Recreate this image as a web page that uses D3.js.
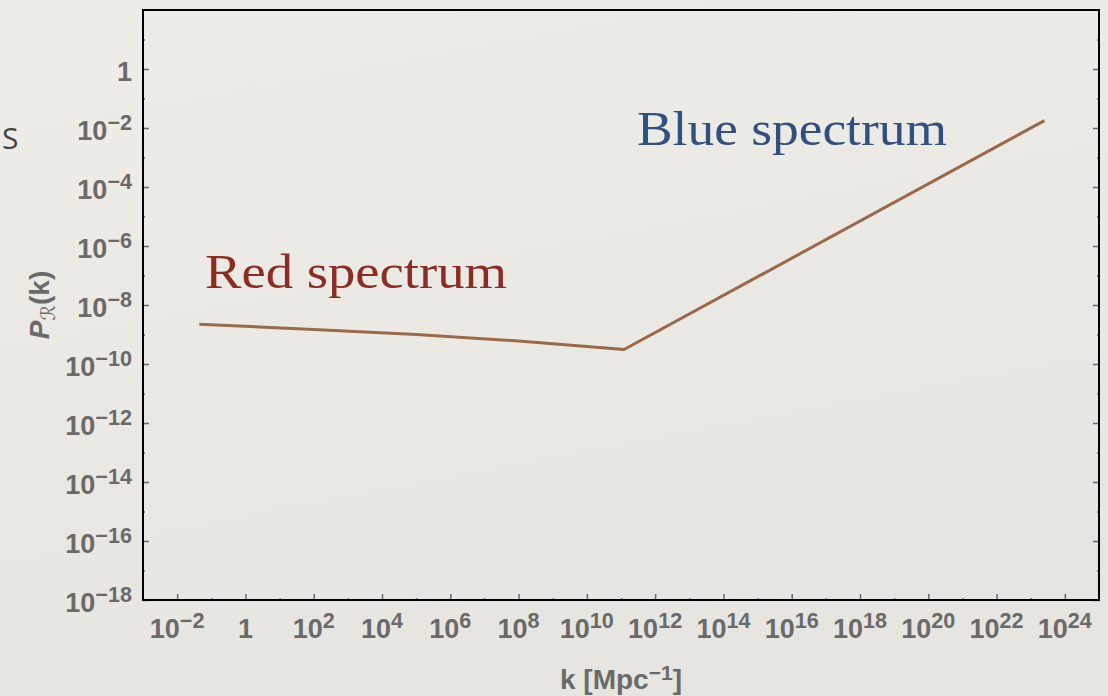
<!DOCTYPE html>
<html>
<head>
<meta charset="utf-8">
<script src="https://cdn.jsdelivr.net/npm/d3@7"></script>
<style>
  html, body { margin: 0; padding: 0; background: #edebe6; }
  svg { display: block; }
</style>
</head>
<body>
<div id="chart"></div>
<script>
// power spectrum values (log10 k, log10 P)
const redLogK  = [-1.35, 2, 5, 8, 11.09];
const redLogP  = [-8.65, -8.83, -9.0, -9.22, -9.51];
const blueLogK = [11.09, 23.4];
const blueLogP = [-9.51, -1.75];

const xTickPowers = [-2, 0, 2, 4, 6, 8, 10, 12, 14, 16, 18, 20, 22, 24];
const xMinorPowers = [-1, 1, 3, 5, 7, 9, 11, 13, 15, 17, 19, 21, 23];
const yTickPowers = [0, -2, -4, -6, -8, -10, -12, -14, -16, -18];
const yMinorPowers = [1, -1, -3, -5, -7, -9, -11, -13, -15, -17];

const width = 1108, height = 696;
const margin = { top: 10, right: 9, bottom: 96, left: 143 };

const svg = d3.select("#chart").append("svg")
  .attr("width", width)
  .attr("height", height);

// paper-ish background
const defs = svg.append("defs");
const grad = defs.append("linearGradient")
  .attr("id", "paper")
  .attr("x1", "0").attr("y1", "0").attr("x2", "0.3").attr("y2", "1");
grad.append("stop").attr("offset", "0").attr("stop-color", "#efede8");
grad.append("stop").attr("offset", "1").attr("stop-color", "#e7e5e0");
svg.append("rect")
  .attr("width", width).attr("height", height)
  .attr("fill", "url(#paper)");

const x = d3.scaleLog()
  .domain([1e-3, 1e25])
  .range([margin.left, width - margin.right]);

const y = d3.scaleLog()
  .domain([1e-18, 1e2])
  .range([height - margin.bottom, margin.top]);

const tickColor = "#6a6a6a";
const labelFont = "'Liberation Sans', Arial, Helvetica, sans-serif";

// ticks (no labels, drawn inward)
const pw = p => Math.pow(10, p);

svg.append("g")
  .attr("transform", `translate(0,${height - margin.bottom})`)
  .call(d3.axisBottom(x).tickValues(xTickPowers.map(pw)).tickSize(-6).tickFormat(""))
  .call(g => g.select(".domain").remove())
  .call(g => g.selectAll("line").attr("stroke", tickColor).attr("stroke-width", 1.5));

svg.append("g")
  .attr("transform", `translate(0,${height - margin.bottom})`)
  .call(d3.axisBottom(x).tickValues(xMinorPowers.map(pw)).tickSize(-2).tickFormat(""))
  .call(g => g.select(".domain").remove())
  .call(g => g.selectAll("line").attr("stroke", tickColor).attr("stroke-width", 1.5));

[margin.left, width - margin.right].forEach((pos, i) => {
  const axisFn = i === 0 ? d3.axisLeft : d3.axisRight;
  svg.append("g")
    .attr("transform", `translate(${pos},0)`)
    .call(axisFn(y).tickValues(yTickPowers.map(pw)).tickSize(-6).tickFormat(""))
    .call(g => g.select(".domain").remove())
    .call(g => g.selectAll("line").attr("stroke", tickColor).attr("stroke-width", 1.5));
  svg.append("g")
    .attr("transform", `translate(${pos},0)`)
    .call(axisFn(y).tickValues(yMinorPowers.map(pw)).tickSize(-2).tickFormat(""))
    .call(g => g.select(".domain").remove())
    .call(g => g.selectAll("line").attr("stroke", tickColor).attr("stroke-width", 1.5));
});

// frame
svg.append("rect")
  .attr("x", margin.left)
  .attr("y", margin.top)
  .attr("width", width - margin.left - margin.right)
  .attr("height", height - margin.top - margin.bottom)
  .attr("fill", "none")
  .attr("stroke", "#000")
  .attr("stroke-width", 2);

// tick labels: 10^n with superscript
function powLabel(sel, p) {
  if (p === 0) {
    sel.append("tspan").text("1");
    return;
  }
  sel.append("tspan").text("10");
  sel.append("tspan")
    .attr("dy", "-0.48em")
    .attr("font-size", "0.8em")
    .text(p < 0 ? "\u2212" + (-p) : String(p));
}

svg.append("g").selectAll("text")
  .data(xTickPowers)
  .join("text")
    .attr("x", d => x(pw(d)))
    .attr("y", 638)
    .attr("text-anchor", "middle")
    .attr("font-family", labelFont)
    .attr("font-weight", "bold")
    .attr("font-size", 27)
    .attr("fill", tickColor)
    .each(function(d) { powLabel(d3.select(this), d); });

svg.append("g").selectAll("text")
  .data(yTickPowers)
  .join("text")
    .attr("x", 132)
    .attr("y", d => y(pw(d)) + 12)
    .attr("text-anchor", "end")
    .attr("font-family", labelFont)
    .attr("font-weight", "bold")
    .attr("font-size", 27)
    .attr("fill", tickColor)
    .each(function(d) { powLabel(d3.select(this), d); });

// spectrum line
const line = d3.line()
  .x(d => x(pw(d[0])))
  .y(d => y(pw(d[1])));

const pts = redLogK.map((k, i) => [k, redLogP[i]])
  .concat(blueLogK.slice(1).map((k, i) => [k, blueLogP[i + 1]]));

svg.append("path")
  .datum(pts)
  .attr("d", line)
  .attr("fill", "none")
  .attr("stroke", "#9a6a48")
  .attr("stroke-width", 3)
  .attr("stroke-linejoin", "round");

// annotations
const serif = "'Palatino Linotype', Palatino, 'Book Antiqua', 'Liberation Serif', 'DejaVu Serif', serif";
svg.append("text")
  .attr("x", 205)
  .attr("y", 288)
  .attr("font-family", serif)
  .attr("font-size", 48)
  .attr("fill", "#8c2d25")
  .attr("textLength", 302)
  .attr("lengthAdjust", "spacingAndGlyphs")
  .text("Red spectrum");

svg.append("text")
  .attr("x", 637)
  .attr("y", 145)
  .attr("font-family", serif)
  .attr("font-size", 48)
  .attr("fill", "#32507e")
  .attr("textLength", 310)
  .attr("lengthAdjust", "spacingAndGlyphs")
  .text("Blue spectrum");

// stray slide letter
svg.append("text")
  .attr("x", 2)
  .attr("y", 149)
  .attr("font-family", "'Open Sans', 'DejaVu Sans', sans-serif")
  .attr("font-size", 30)
  .attr("fill", "#444")
  .text("S");

// axis titles
const xt = svg.append("text")
  .attr("x", (margin.left + width - margin.right) / 2)
  .attr("y", 689)
  .attr("text-anchor", "middle")
  .attr("font-family", labelFont)
  .attr("font-weight", "bold")
  .attr("font-size", 28)
  .attr("fill", tickColor);
xt.append("tspan").text("k [Mpc");
xt.append("tspan").attr("dy", "-0.45em").attr("font-size", "0.75em").text("\u22121");
xt.append("tspan").attr("dy", "0.34em").text("]");

const yt = svg.append("text")
  .attr("transform", `translate(49,${(margin.top + height - margin.bottom) / 2}) rotate(-90)`)
  .attr("text-anchor", "middle")
  .attr("font-family", labelFont)
  .attr("font-weight", "bold")
  .attr("font-size", 28)
  .attr("fill", tickColor);
yt.append("tspan").attr("font-style", "italic").text("P");
yt.append("tspan")
  .attr("dy", "0.3em")
  .attr("font-size", "0.7em")
  .attr("font-weight", "normal")
  .attr("font-family", "'DejaVu Sans', sans-serif")
  .text("\u211B");
yt.append("tspan").attr("dy", "-0.21em").text("(k)");
</script>
</body>
</html>
